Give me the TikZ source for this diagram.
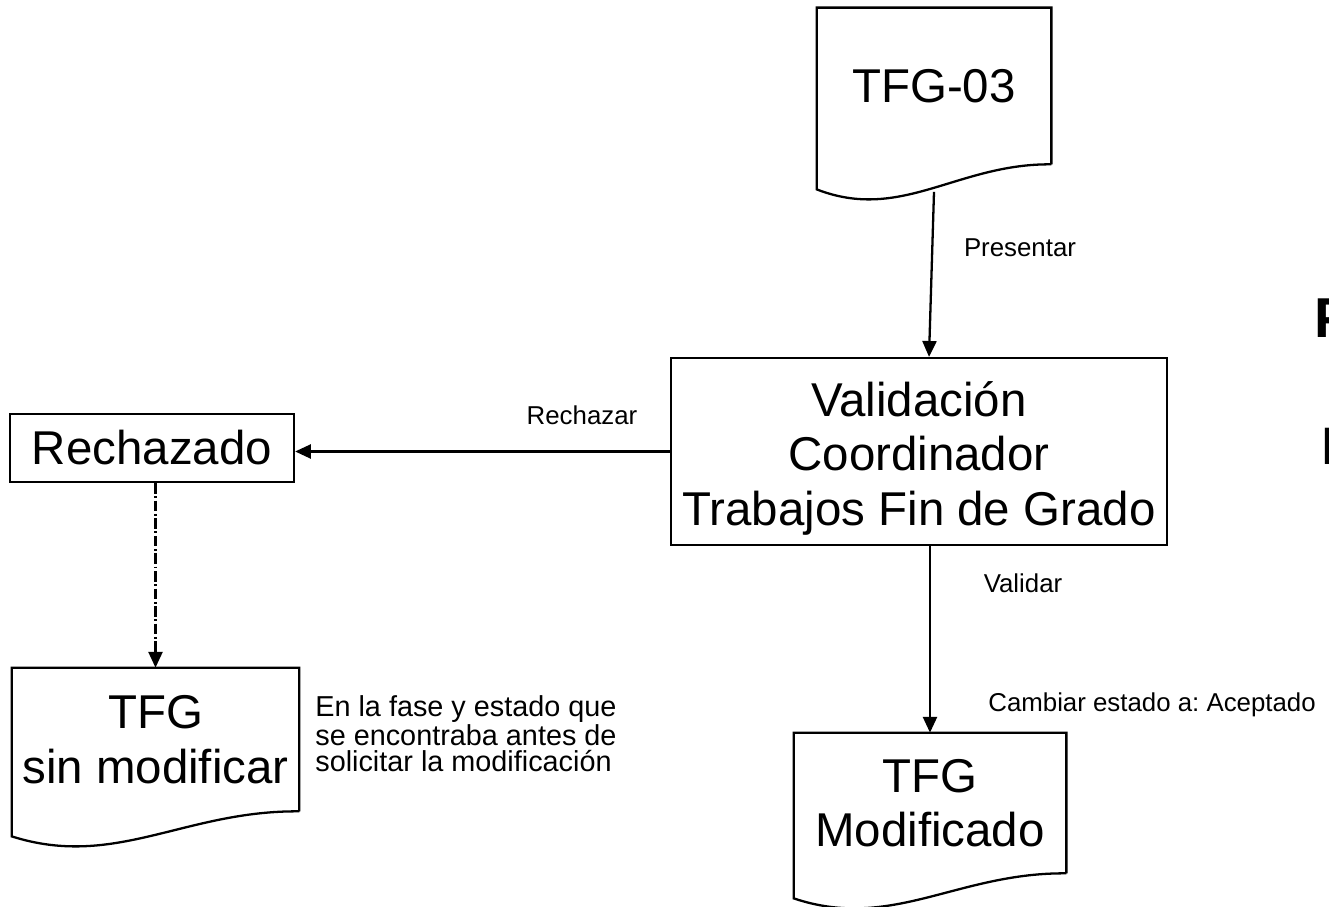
\documentclass[tikz,border=0pt]{standalone}
\usepackage{fontspec}
\setmainfont{Liberation Sans}
\usepackage{tikz}
\usetikzlibrary{positioning,calc,arrows.meta}

\tikzset{
  box/.style={draw, line width=1.3pt, inner sep=0pt, minimum width=#1},
  bigtext/.style={inner sep=0pt, align=center, font=\fontsize{27}{31}\selectfont},
  lbl/.style={font=\fontsize{14.7}{17}\selectfont},
  arr/.style={line width=1.3pt, -{Triangle[length=9pt,width=8pt]}},
}
\newcommand{\docwave}[1]{%
  \draw [line width=1.3pt] (#1.south east) -- (#1.north east) -- (#1.north west)
    -- ($(#1.south west)+(0,-0.5)$)
    .. controls ($(#1.south west)!0.36!(#1.south east)+(0,-1.16)$)
    and ($(#1.south west)!0.6!(#1.south east)+(0,0.02)$) .. (#1.south east);}

\begin{document}
\frenchspacing
\begin{tikzpicture}
    \useasboundingbox (0,0) rectangle (26.58,-18.14);
    \fill [white] (0,0) rectangle (26.58,-18.14);

    % Documents
    \node [bigtext, minimum width=4.68cm, minimum height=3.12cm] (doc03) at (18.68,-1.72) {TFG-03};
    \docwave{doc03}
    \node [bigtext, minimum width=5.74cm, minimum height=2.86cm] (docsin) at (3.11,-14.79) {TFG\\sin modificar};
    \docwave{docsin}
    \node [bigtext, minimum width=5.44cm, minimum height=2.8cm] (docmod) at (18.6,-16.06) {TFG\\Modificado};
    \docwave{docmod}

    % Process boxes
    \node [box=9.92cm, minimum height=3.74cm] (val) at (18.38,-9.03) {};
    \node [bigtext] (valtxt) at ($(val.center)+(0,-0.13)$) {Validaci\'on\\Coordinador\\Trabajos Fin de Grado};
    \node [box=5.68cm, bigtext, draw, minimum height=1.36cm] (rech) at (3.04,-8.96) {Rechazado};

    % Flows
    \coordinate (p0) at ($(doc03.south)+(0,-0.55)$);
    \draw [arr] (p0) -- ($(val.north)+(0.2,0)$);
    \draw [arr] (val.west) -- (val.west -| rech.east);
    \draw [arr] ($(val.south)+(0.22,0)$) -- (docmod.north);
    \draw [arr, dash pattern=on 6pt off 1.5pt on 1pt off 1.5pt] (docsin.north |- rech.south) -- (docsin.north);

    % Labels
    \node [lbl] (presentar) at (20.4,-4.96) {Presentar};
    \node [lbl] (rechazar) at (11.64,-8.3) {Rechazar};
    \node [lbl] (validar) at (20.46,-11.66) {Validar};
    \node [lbl, anchor=west, inner sep=0pt] (cambiar) at (19.76,-14.1) {Cambiar estado a: Aceptado};
    \node [anchor=west, inner sep=0pt, align=left, font=\fontsize{16.4}{15}\selectfont] (nota) at (6.3,-14.68)
        {En la fase y estado que\\se encontraba antes de\\solicitar la modificaci\'on};

    % Cut-off titles at the right edge
    \node [anchor=west, inner sep=0pt, font=\fontsize{32}{36}\bfseries] (tit1) at (26.28,-6.37) {P};
    \node [anchor=west, inner sep=0pt, font=\fontsize{30}{34}\selectfont] (tit2) at (26.4,-8.92) {I};
\end{tikzpicture}
\end{document}
